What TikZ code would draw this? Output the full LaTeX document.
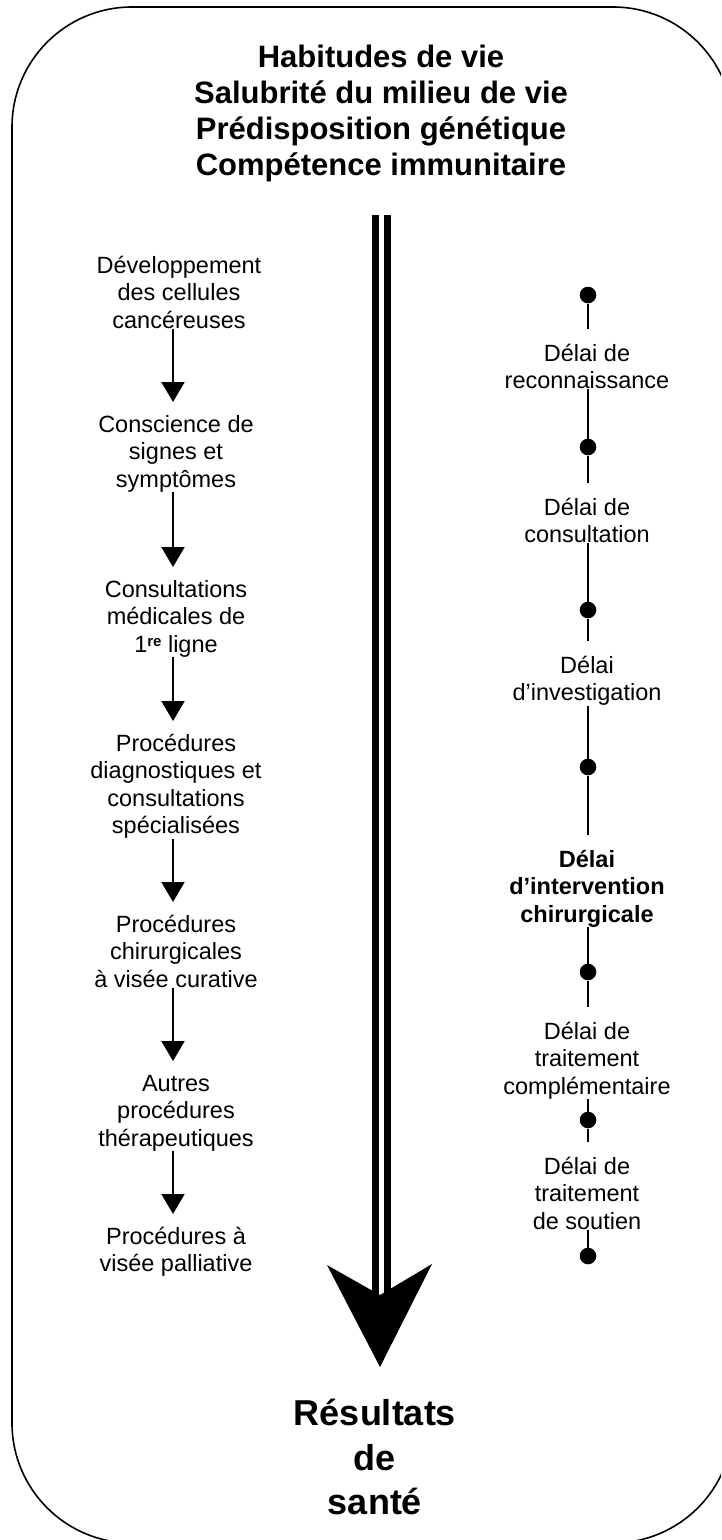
\documentclass[tikz,border=0pt]{standalone}
\usepackage{fontspec}
\setmainfont{Liberation Sans}
\usetikzlibrary{arrows.meta}
\tikzset{
  txt/.style={font=\fontsize{23.5}{27.5}\selectfont, align=center, inner sep=0pt, anchor=north},
  btxt/.style={txt, font=\fontsize{23.5}{27.5}\selectfont\bfseries},
  title/.style={font=\fontsize{31}{36}\selectfont\bfseries, align=center, inner sep=0pt, anchor=north},
  result/.style={font=\fontsize{36}{44.5}\selectfont\bfseries, align=center, inner sep=0pt, anchor=north},
  arr/.style={line width=2pt, -{Triangle[width=23pt,length=20pt]}},
  seg/.style={line width=2pt},
  dot/.style={circle, fill=black, inner sep=0pt, minimum size=16.6pt},
}
\newcommand{\st}[1]{\rule{0pt}{#1pt}}
\begin{document}
\begin{tikzpicture}[x=1pt,y=-1pt]
\useasboundingbox (0,0) rectangle (721,1540);
\clip (0,0) rectangle (721,1540);
\draw[line width=1.6pt, rounded corners=120pt] (12,7) rectangle (733,1543);
% title
\node[title] (title) at (381,44) {\st{23}Habitudes de vie\\Salubrité du milieu de vie\\Prédisposition génétique\\Compétence immunitaire};
% big arrow
\coordinate (bigtop) at (381.5,215);
\coordinate (bigend) at (381.5,1300);
\draw[line width=7pt, double=white, double distance=5pt] (bigtop) -- (bigend);
\fill (327,1265) -- (380,1295) -- (432,1264) -- (380,1367) -- cycle;
\node[result] (res) at (375,1399) {\st{26}Résultats\\de\\santé};
% left column
\node[txt] (l1) at (179,255) {\st{18}Développement\\des cellules\\cancéreuses};
\node[txt] (l2) at (176,414) {\st{18}Conscience de\\signes et\\symptômes};
\node[txt] (l3) at (176,579) {\st{18}Consultations\\médicales de\\1\raisebox{6pt}{\fontsize{15}{15}\selectfont\bfseries re} ligne};
\node[txt] (l4) at (176,733) {\st{18}Procédures\\diagnostiques et\\consultations\\spécialisées};
\node[txt] (l5) at (176,914) {\st{18}Procédures\\chirurgicales\\à visée curative};
\node[txt] (l6) at (176,1073) {\st{18}Autres\\procédures\\thérapeutiques};
\node[txt] (l7) at (176,1226) {\st{18}Procédures à\\visée palliative};
\coordinate (ax) at (173,0);
\foreach \a/\b in {l1/l2,l2/l3,l3/l4,l4/l5,l5/l6,l6/l7}
  \draw[arr] (\a.south -| ax) -- ([yshift=12pt]\b.north -| ax);
% right column
\node[dot] (d1) at (588,295) {};
\node[dot] (d2) at (588,447) {};
\node[dot] (d3) at (588,610) {};
\node[dot] (d4) at (588,767) {};
\node[dot] (d5) at (588,972) {};
\node[dot] (d6) at (588,1120) {};
\node[dot] (d7) at (588,1256) {};
\node[txt] (r1) at (587,343) {\st{18}Délai de\\reconnaissance};
\node[txt] (r2) at (587,497) {\st{18}Délai de\\consultation};
\node[txt] (r3) at (587,655) {\st{18}Délai\\d’investigation};
\node[btxt] (r4) at (587,849) {\st{18}Délai\\d’intervention\\chirurgicale};
\node[txt] (r5) at (587,1021) {\st{18}Délai de\\traitement\\complémentaire};
\node[txt] (r6) at (587,1156) {\st{18}Délai de\\traitement\\de soutien};
\foreach \d/\r/\n in {d1/r1/d2,d2/r2/d3,d3/r3/d4,d4/r4/d5,d5/r5/d6,d6/r6/d7}{
  \draw[seg] (\d) -- ([yshift=14pt]\r.north -| \d);
  \draw[seg] (\r.south -| \d) -- (\n);
}
\end{tikzpicture}
\end{document}
